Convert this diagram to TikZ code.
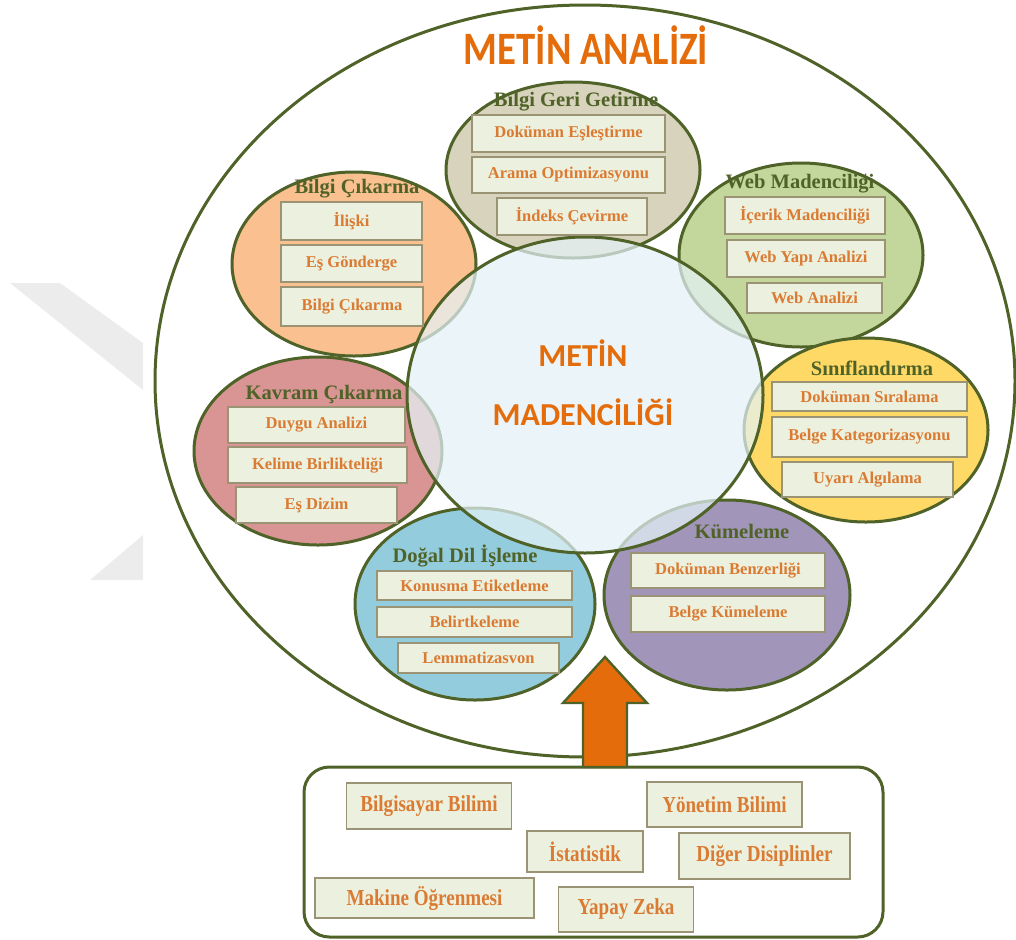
\documentclass[tikz,border=0pt]{standalone}
\usepackage{fontspec}
\usetikzlibrary{shapes.geometric}
\setmainfont{Liberation Serif}
\newfontfamily\headfont{Carlito}
\definecolor{rim}{HTML}{4F6228}
\definecolor{ttl}{HTML}{E46C0A}
\definecolor{itemtxt}{HTML}{DB7B33}
\definecolor{itembg}{HTML}{EBF1DE}
\definecolor{itemrim}{HTML}{9A9474}
\definecolor{wmark}{HTML}{ECECEC}
\definecolor{cIR}{HTML}{D8D3BC}
\definecolor{cIE}{HTML}{FAC090}
\definecolor{cWM}{HTML}{C3D69B}
\definecolor{cCL}{HTML}{FFD966}
\definecolor{cCE}{HTML}{D99594}
\definecolor{cNLP}{HTML}{93CDDD}
\definecolor{cKM}{HTML}{A295BA}
\definecolor{cCore}{HTML}{E4F2F7}
\begin{document}
\begin{tikzpicture}[x=0.75pt,y=-0.75pt,
  topic/.style={ellipse, draw=rim, line width=2.25pt, inner sep=0pt},
  sz/.style 2 args={minimum width={#1*0.75pt}, minimum height={#2*0.75pt}},
  topictitle/.style={text=rim, font=\bfseries\fontsize{15.4}{17}\selectfont, inner sep=0pt},
  item/.style={draw=itemrim, fill=itembg, line width=1pt, inner sep=0pt,
    text=itemtxt, font=\bfseries\fontsize{12.4}{14}\selectfont},
  field/.style={draw=itemrim, fill=itembg, line width=1.1pt, inner sep=0pt,
    text=itemtxt, font=\bfseries\fontsize{14.3}{16}\selectfont},
  bigword/.style={text=ttl, font=\headfont\bfseries\fontsize{24}{28}\selectfont, inner sep=0pt}]
\useasboundingbox (0,0) rectangle (1016,939);

% faint watermark on the left margin
\fill[wmark] (10,283) -- (60,283) -- (143,343) -- (143,390) -- cycle;
\fill[wmark] (90,580) -- (143,535) -- (143,580) -- cycle;

% outer field of text analysis
\node[topic, fill=white, sz={860}{752}] (outer) at (585,381) {};
\node[text=ttl, font=\headfont\bfseries\fontsize{29}{34}\selectfont, inner sep=0pt]
  (title) at (586,45) {\scalebox{1}[1.2]{METİN ANALİZİ}};

% surrounding topics
\node[topic, fill=cIR,  sz={254}{176}] (ir)  at (573,170) {};
\node[topic, fill=cIE,  sz={244}{184}] (ie)  at (354,264) {};
\node[topic, fill=cWM,  sz={244}{184}] (wm)  at (801,255) {};
\node[topic, fill=cCL,  sz={244}{184}] (cl)  at (866,430) {};
\node[topic, fill=cCE,  sz={248}{188}] (ce)  at (318,451) {};
\node[topic, fill=cNLP, sz={240}{192}] (nlp) at (475,604) {};
\node[topic, fill=cKM,  sz={246}{190}] (km)  at (727,595) {};

% core: text mining, drawn over the topics
\node[topic, fill=cCore, fill opacity=0.72, sz={356}{316}] (core) at (585,395) {};
\node[bigword] (core1) at (583,353) {METİN};
\node[bigword] (core2) at (583,412) {MADENCİLİĞİ};

% Bilgi Geri Getirme
\node[topictitle] (irT) at (576,102) {Bilgi Geri Getirme};
\node[item, sz={193}{37}] (ir1) at (568.5,133.5) {Doküman Eşleştirme};
\node[item, sz={193}{36}] (ir2) at (568.5,175) {Arama Optimizasyonu};
\node[item, sz={150}{37}] (ir3) at (572,216.5) {İndeks Çevirme};

% Bilgi Çıkarma
\node[topictitle] (ieT) at (357,189) {Bilgi Çıkarma};
\node[item, sz={141}{38}] (ie1) at (351.5,221) {İlişki};
\node[item, sz={141}{37}] (ie2) at (351.5,263.5) {Eş Gönderge};
\node[item, sz={142}{39}] (ie3) at (352,306.5) {Bilgi Çıkarma};

% Web Madenciliği
\node[topictitle] (wmT) at (800,184) {Web Madenciliği};
\node[item, sz={160}{37}] (wm1) at (805,215.5) {İçerik Madenciliği};
\node[item, sz={158}{37}] (wm2) at (806,258.5) {Web Yapı Analizi};
\node[item, sz={135}{30}] (wm3) at (814.5,298) {Web Analizi};

% Sınıflandırma
\node[topictitle] (clT) at (872,368) {Sınıflandırma};
\node[item, sz={195}{29}] (cl1) at (869.5,396.5) {Doküman Sıralama};
\node[item, sz={195}{40}] (cl2) at (869.5,437) {Belge Kategorizasyonu};
\node[item, sz={171}{35}] (cl3) at (867.5,479.5) {Uyarı Algılama};

% Kavram Çıkarma
\node[topictitle] (ceT) at (324,394) {Kavram Çıkarma};
\node[item, sz={177}{36}] (ce1) at (316.5,425) {Duygu Analizi};
\node[item, sz={179}{36}] (ce2) at (317.5,465) {Kelime Birlikteliği};
\node[item, sz={161}{36}] (ce3) at (316.5,505) {Eş Dizim};

% Doğal Dil İşleme
\node[topictitle] (nlpT) at (465,556) {Doğal Dil İşleme};
\node[item, sz={195}{29}] (nlp1) at (474.5,585.5) {Konusma Etiketleme};
\node[item, sz={195}{30}] (nlp2) at (474.5,622) {Belirtkeleme};
\node[item, sz={161}{30}] (nlp3) at (478.5,658) {Lemmatizasvon};

% Kümeleme
\node[topictitle] (kmT) at (742,531) {Kümeleme};
\node[item, sz={194}{35}] (km1) at (728,570.5) {Doküman Benzerliği};
\node[item, sz={194}{36}] (km2) at (728,614) {Belge Kümeleme};

% contributing disciplines
\node[draw=rim, line width=2.25pt, rounded corners=19pt, fill=white, sz={579}{170}]
  (src) at (593.5,852) {};
\node[field, sz={165}{46}] (f1) at (429,806) {\scalebox{1}[1.2]{Bilgisayar Bilimi}};
\node[field, sz={155}{45}] (f2) at (724.5,804.5) {\scalebox{1}[1.2]{Yönetim Bilimi}};
\node[field, sz={116}{41}] (f3) at (585,851.5) {\scalebox{1}[1.2]{İstatistik}};
\node[field, sz={171}{46}] (f4) at (764.5,856) {\scalebox{1}[1.2]{Diğer Disiplinler}};
\node[field, sz={219}{40}] (f5) at (424.5,898) {\scalebox{1}[1.2]{Makine Öğrenmesi}};
\node[field, sz={135}{45}] (f6) at (626,909.5) {\scalebox{1}[1.2]{Yapay Zeka}};

% block arrow from the disciplines up into the analysis field
\coordinate (abase) at (605,767);
\coordinate (atip) at (605,657);
\filldraw[fill=ttl, draw=rim, line width=1.8pt, line join=miter]
  (abase) ++(-22,0) -- ++(0,-64) -- ++(-20,0) -- (atip) -- ++(42,46)
  -- ++(-20,0) -- ++(0,64) -- cycle;
\end{tikzpicture}
\end{document}
